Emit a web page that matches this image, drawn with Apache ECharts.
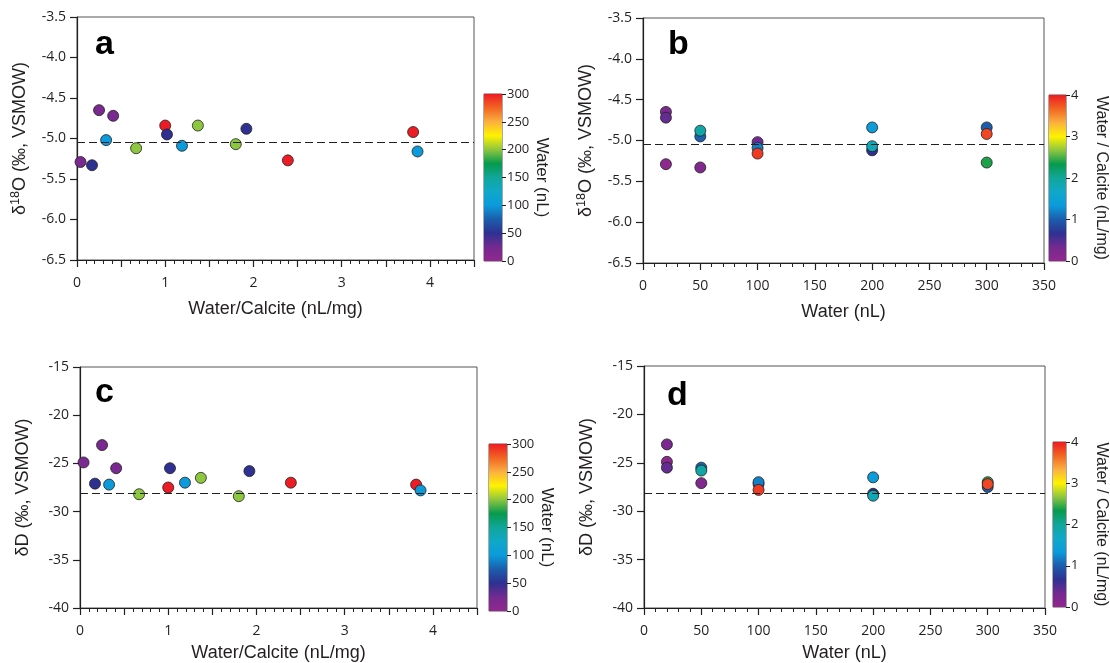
<!DOCTYPE html>
<html><head><meta charset="utf-8">
<script src="https://cdn.jsdelivr.net/npm/echarts@6/dist/echarts.min.js"></script>
<style>html,body{margin:0;padding:0;background:#fff}#c{width:1110px;height:663px}</style>
</head><body><div id="c"></div>
<script>
// ---- data (one entry per sample) ----
const ratio = [0.04, 0.17, 0.25, 0.33, 0.41, 0.67, 1.00, 1.02, 1.19, 1.37, 1.80, 1.92, 2.39, 3.81, 3.86]; // Water/Calcite (nL/mg)
const water = [20, 50, 20, 100, 20, 200, 300, 50, 100, 200, 200, 50, 300, 300, 100];                   // Water (nL)
const d18O  = [-5.29, -5.33, -4.65, -5.02, -4.72, -5.12, -4.84, -4.95, -5.09, -4.84, -5.07, -4.88, -5.27, -4.92, -5.16];
const dD    = [-24.9, -27.1, -23.1, -27.2, -25.5, -28.2, -27.5, -25.5, -27.0, -26.5, -28.4, -25.8, -27.0, -27.2, -27.8];
const d18ORef = -5.05;
const dDRef = -28.1;
const waterTicks = [0, 300, 50];
const ratioTicks = [0, 4, 1];
const rainbow = ['#92278F', '#732A90', '#2E3192', '#1C5DAB', '#0B9BDB', '#10A8C8', '#11A69A',
                 '#069A4E', '#8DC63F', '#FFF200', '#FBB040', '#F26522', '#ED1C24'];

const ink = '#231F20';
const tickFont = 'Open Sans';
const titleFont = 'Liberation Sans';

const chart = echarts.init(document.getElementById('c'), null, {renderer: 'canvas'});

const stops = rainbow.map((c, i) => ({offset: i / (rainbow.length - 1), color: c}));
const grad = () => new echarts.graphic.LinearGradient(0, 1, 0, 0, stops);

const grids = [
  {left: 77, top: 17, width: 397, height: 243},
  {left: 643, top: 18, width: 401, height: 245},
  {left: 80, top: 367, width: 397, height: 246},
  {left: 644, top: 366, width: 401, height: 243},
  {left: 484, top: 94, width: 18, height: 167},
  {left: 1049, top: 95, width: 19, height: 166},
  {left: 489, top: 444, width: 18, height: 167},
  {left: 1053, top: 442, width: 18, height: 165}
].map(g => Object.assign({show: true, borderColor: '#555', borderWidth: 1, containLabel: false}, g));

const ySup = {
  d: {fontSize: 18, fontFamily: titleFont, color: ink, lineHeight: 22},
  s: {fontSize: 12.5, fontFamily: titleFont, color: ink, lineHeight: 22, verticalAlign: 'top'}
};

function mainX(gi, max, interval, minorSplit, name, intLabels, gap) {
  return {
    type: 'value', gridIndex: gi, min: 0, max: max, interval: interval,
    axisLine: {show: true, onZero: false, lineStyle: {color: ink, width: 1.2}},
    axisTick: {show: true, length: 7, lineStyle: {color: ink, width: 1.2}},
    minorTick: {show: true, splitNumber: minorSplit, length: 4, lineStyle: {color: ink, width: 1}},
    splitLine: {show: false}, minorSplitLine: {show: false},
    axisLabel: {fontSize: 14, fontFamily: tickFont, color: ink, margin: 16,
      formatter: v => intLabels ? (Number.isInteger(v) ? String(v) : '') : String(v)},
    name: name, nameLocation: 'middle', nameGap: gap,
    nameTextStyle: {fontSize: 18, fontFamily: titleFont, color: ink}
  };
}
function mainY(gi, min, max, interval, name, dec) {
  return {
    type: 'value', gridIndex: gi, min: min, max: max, interval: interval,
    axisLine: {show: true, onZero: false, lineStyle: {color: ink, width: 1.2}},
    axisTick: {show: true, length: 7, lineStyle: {color: ink, width: 1.2}},
    splitLine: {show: false},
    axisLabel: {fontSize: 14, fontFamily: tickFont, color: ink, margin: 11,
      formatter: v => v.toFixed(dec)},
    name: name, nameLocation: 'middle', nameGap: 46,
    nameTextStyle: {fontSize: 18, fontFamily: titleFont, color: ink, rich: ySup}
  };
}
function cbX(gi) {
  return {type: 'category', gridIndex: gi, data: ['c'], show: false, boundaryGap: true};
}
function cbY(gi, t, name, fs) {
  return {
    type: 'value', gridIndex: gi, position: 'right', min: t[0], max: t[1], interval: t[2],
    axisLine: {show: false},
    axisTick: {show: true, length: 4, lineStyle: {color: ink, width: 1}},
    splitLine: {show: false},
    axisLabel: {fontSize: 13, fontFamily: tickFont, color: ink, margin: 5},
    name: name, nameLocation: 'middle', nameRotate: -90, nameGap: 27,
    nameTextStyle: {fontSize: fs, fontFamily: titleFont, color: ink}
  };
}

function scatter(gi, xs, ys, cs, ref) {
  return {
    type: 'scatter', xAxisIndex: gi, yAxisIndex: gi,
    data: xs.map((x, i) => [x, ys[i], cs[i]]),
    symbolSize: 11,
    itemStyle: {borderColor: ink, borderWidth: 0.8, opacity: 1},
    markLine: {
      silent: true, symbol: ['none', 'none'], label: {show: false},
      lineStyle: {color: ink, width: 1.2, type: [8, 4]},
      data: [{yAxis: ref}]
    }
  };
}
function cbBar(gi, t) {
  return {
    type: 'bar', xAxisIndex: gi, yAxisIndex: gi, data: [t[1]],
    barWidth: '100%', silent: true, itemStyle: {color: grad()}
  };
}

const letterStyle = {fontSize: 34, fontWeight: 'bold', fontFamily: titleFont, color: '#000'};

const option = {
  animation: false,
  backgroundColor: '#fff',
  title: [
    {text: 'a', left: 95, top: 28, textStyle: letterStyle, padding: 0},
    {text: 'b', left: 668, top: 28, textStyle: letterStyle, padding: 0},
    {text: 'c', left: 95, top: 376, textStyle: letterStyle, padding: 0},
    {text: 'd', left: 667, top: 379, textStyle: letterStyle, padding: 0}
  ],
  grid: grids,
  xAxis: [
    mainX(0, 4.5, 0.5, 5, 'Water/Calcite (nL/mg)', true, 40),
    mainX(1, 350, 50, 5, 'Water (nL)', false, 40),
    mainX(2, 4.5, 0.5, 5, 'Water/Calcite (nL/mg)', true, 36),
    mainX(3, 350, 50, 5, 'Water (nL)', false, 36),
    cbX(4), cbX(5), cbX(6), cbX(7)
  ],
  yAxis: [
    mainY(0, -6.5, -3.5, 0.5, '{d|δ}{s|18}{d|O (‰, VSMOW)}', 1),
    mainY(1, -6.5, -3.5, 0.5, '{d|δ}{s|18}{d|O (‰, VSMOW)}', 1),
    mainY(2, -40, -15, 5, '{d|δD (‰, VSMOW)}', 0),
    mainY(3, -40, -15, 5, '{d|δD (‰, VSMOW)}', 0),
    cbY(4, waterTicks, 'Water (nL)', 17),
    cbY(5, ratioTicks, 'Water / Calcite (nL/mg)', 16),
    cbY(6, waterTicks, 'Water (nL)', 17),
    cbY(7, ratioTicks, 'Water / Calcite (nL/mg)', 16)
  ],
  visualMap: [
    {type: 'continuous', show: false, seriesIndex: [0, 2], dimension: 2,
     min: waterTicks[0], max: waterTicks[1], inRange: {color: rainbow}},
    {type: 'continuous', show: false, seriesIndex: [1, 3], dimension: 2,
     min: ratioTicks[0], max: ratioTicks[1], inRange: {color: rainbow}}
  ],
  series: [
    scatter(0, ratio, d18O, water, d18ORef),
    scatter(1, water, d18O, ratio, d18ORef),
    scatter(2, ratio, dD, water, dDRef),
    scatter(3, water, dD, ratio, dDRef),
    cbBar(4, waterTicks), cbBar(5, ratioTicks), cbBar(6, waterTicks), cbBar(7, ratioTicks)
  ]
};
chart.setOption(option);
</script>
</body></html>
